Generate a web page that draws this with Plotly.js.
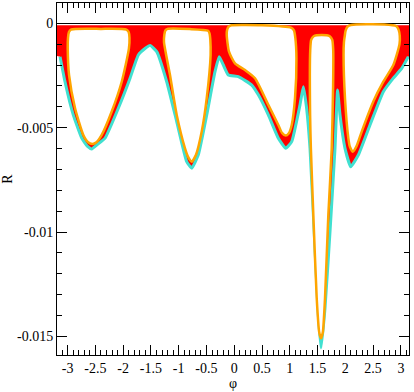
<!DOCTYPE html>
<html>
<head>
<meta charset="utf-8">
<script src="https://cdn.plot.ly/plotly-3.0.1.min.js"></script>
<style>
  html, body { margin: 0; padding: 0; background: #fff; }
  #plot { width: 414px; height: 392px; }
</style>
</head>
<body>
<div id="plot"></div>
<script>
// lower envelope (turquoise)
const envPhi = [-3.135, -3.046, -2.896, -2.745, -2.64, -2.565, -2.46, -2.325, -2.086, -1.875, -1.726, -1.6, -1.515,
    -1.395, -1.215, -1.035, -0.855, -0.765, -0.646, -0.495, -0.346, -0.27, -0.196, -0.106, 0.074, 0.315, 0.434,
    0.614, 0.794, 0.927, 1.035, 1.184, 1.244, 1.3, 1.364, 1.454, 1.514, 1.562, 1.634, 1.724, 1.814, 1.86,
    1.904, 1.994, 2.097, 2.234, 2.444, 2.684, 2.864, 3.015, 3.134];
const envR = [-0.0016, -0.0028, -0.0044, -0.0055, -0.0059, -0.00602, -0.0058, -0.0055, -0.00407, -0.00263, -0.00152, -0.0012, -0.00106,
    -0.00136, -0.0028, -0.00471, -0.00663, -0.00694, -0.0063, -0.00439, -0.00232, -0.0016, -0.002, -0.00248, -0.00256, -0.00296, -0.00343,
    -0.00439, -0.00551, -0.00599, -0.00567, -0.00391, -0.00304, -0.004, -0.00599, -0.01078, -0.01397, -0.01556, -0.01365, -0.00998, -0.00599, -0.0032,
    -0.00439, -0.00599, -0.00687, -0.00631, -0.00487, -0.00328, -0.00263, -0.00216, -0.0016];

// inner orange loops, one per well
const loop1Phi = [-2.997, -2.992, -2.975, -2.94, -2.4, -1.94, -1.9, -1.885, -1.895, -2.025, -2.205, -2.385, -2.48, -2.554, -2.63, -2.716, -2.865, -2.973, -2.997];
const loop1R = [-0.0012, -0.0007, -0.00042, -0.0003, -0.00027, -0.0003, -0.00042, -0.0007, -0.0012, -0.0028, -0.00423, -0.00535, -0.0057, -0.00578, -0.0057, -0.00535, -0.00407, -0.00248, -0.0012];
const loop2Phi = [-1.264, -1.258, -1.24, -1.2, -0.8, -0.47, -0.445, -0.43, -0.425, -0.495, -0.585, -0.688, -0.765, -0.83, -0.886, -1.035, -1.156, -1.264];
const loop2R = [-0.0009, -0.00055, -0.00035, -0.00027, -0.00028, -0.00036, -0.00048, -0.0008, -0.00152, -0.00359, -0.00519, -0.0063, -0.00663, -0.0064, -0.00599, -0.00439, -0.00248, -0.0009];
const loop3Phi = [-0.135, -0.128, -0.1, -0.05, 0.5, 1.03, 1.075, 1.1, 1.12, 1.094, 1.035, 0.98, 0.927, 0.86, 0.794, 0.614, 0.374, 0.194, 0.014, -0.094, -0.135];
const loop3R = [-0.00056, -0.00032, -0.00016, -0.0001, -0.0001, -0.00022, -0.00034, -0.0007, -0.00168, -0.00359, -0.00487, -0.00528, -0.00538, -0.00525, -0.00487, -0.00391, -0.00263, -0.00224, -0.00192, -0.00136, -0.00056];
const loop4Phi = [1.366, 1.368, 1.385, 1.43, 1.575, 1.72, 1.765, 1.782, 1.78, 1.755, 1.694, 1.634, 1.595, 1.562, 1.53, 1.485, 1.424, 1.38, 1.366];
const loop4R = [-0.00439, -0.0013, -0.0008, -0.00062, -0.00056, -0.00062, -0.0008, -0.0013, -0.003, -0.00600, -0.00918, -0.01317, -0.0148, -0.01509, -0.0148, -0.01317, -0.00918, -0.006, -0.00439];
const loop5Phi = [1.99, 2.005, 2.04, 2.1, 2.7, 2.92, 2.96, 2.98, 2.975, 2.864, 2.684, 2.504, 2.295, 2.2, 2.133, 2.08, 2.054, 1.994, 1.968, 1.975, 1.99];
const loop5R = [-0.0006, -0.00035, -0.00016, -0.00008, -0.00006, -0.00014, -0.00032, -0.0006, -0.001, -0.002, -0.0028, -0.00375, -0.00519, -0.0059, -0.00615, -0.0059, -0.0055, -0.00359, -0.00152, -0.0009, -0.0006];

const redTop = -0.0001;

const xTicks = [-3, -2.5, -2, -1.5, -1, -0.5, 0, 0.5, 1, 1.5, 2, 2.5, 3];
const xLabels = ['-3', '-2.5', '-2', '-1.5', '-1', '-0.5', '0', '0.5', '1', '1.5', '2', '2.5', '3'];
const yTicks = [0, -0.005, -0.01, -0.015];
const yLabels = ['0', '-0.005', '-0.01', '-0.015'];

const font = 'Liberation Serif';

// red band: from just under zero down to the envelope
const redX = [-3.3].concat(envPhi, [3.3, 3.3, -3.3]);
const redY = [-0.0015].concat(envR, [-0.0015, redTop, redTop]);

const loopsX = [], loopsY = [];
[[loop1Phi, loop1R], [loop2Phi, loop2R], [loop3Phi, loop3R], [loop4Phi, loop4R], [loop5Phi, loop5R]].forEach(([lx, ly], i) => {
    if (i > 0) { loopsX.push(null); loopsY.push(null); }
    loopsX.push(...lx);
    loopsY.push(...ly);
});

const data = [
    {
        x: redX, y: redY, type: 'scatter', mode: 'lines',
        fill: 'toself', fillcolor: '#ff0000', line: {width: 0, color: '#ff0000'},
        hoverinfo: 'skip', showlegend: false
    },
    {
        x: envPhi, y: envR, type: 'scatter', mode: 'lines',
        line: {color: '#40e0d0', width: 3, shape: 'spline', smoothing: 0.4},
        showlegend: false
    },
    {
        x: loopsX, y: loopsY, type: 'scatter', mode: 'lines',
        fill: 'toself', fillcolor: '#ffffff',
        line: {color: '#ffa500', width: 2.5, shape: 'spline', smoothing: 0.6},
        showlegend: false
    }
];

const axisBase = {
    showline: true, linecolor: '#000', linewidth: 1, mirror: 'ticks',
    ticks: 'inside', ticklen: 10, tickwidth: 1, tickcolor: '#000',
    showgrid: false, zeroline: false,
    tickfont: {family: font, size: 14, color: '#000'}
};

const layout = {
    width: 414, height: 392,
    margin: {l: 57, r: 5, t: 3, b: 37},
    paper_bgcolor: '#fff', plot_bgcolor: '#fff',
    showlegend: false,
    xaxis: Object.assign({}, axisBase, {
        range: [-3.19, 3.146],
        tickmode: 'array', tickvals: xTicks, ticktext: xLabels,
        minor: {tickmode: 'linear', tick0: 0, dtick: 0.1, ticks: 'inside', ticklen: 5, tickcolor: '#000', showgrid: false},
        title: {text: 'φ', font: {family: font, size: 14, color: '#000'}, standoff: 3}
    }),
    yaxis: Object.assign({}, axisBase, {
        range: [-0.01589, 0.00097],
        zeroline: true, zerolinecolor: '#000', zerolinewidth: 1.5,
        tickmode: 'array', tickvals: yTicks, ticktext: yLabels,
        minor: {tickmode: 'linear', tick0: 0, dtick: 0.001, ticks: 'inside', ticklen: 5, tickcolor: '#000', showgrid: false},
        title: {text: 'R', font: {family: font, size: 14, color: '#000'}, standoff: 2}
    })
};

Plotly.newPlot('plot', data, layout, {staticPlot: true});
</script>
</body>
</html>
